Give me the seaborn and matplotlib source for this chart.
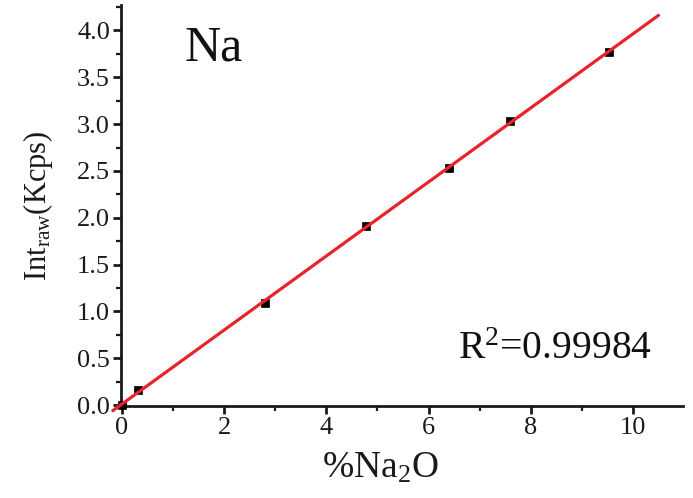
import numpy as np
import pandas as pd
import matplotlib
matplotlib.use("Agg")
import matplotlib.pyplot as plt
import seaborn as sns
from matplotlib.ticker import MultipleLocator

# Data
na2o_pct = [0.0, 0.31, 2.80, 4.77, 6.40, 7.59, 9.53]
intensity = [0.0, 0.16, 1.088, 1.91, 2.53, 3.03, 3.77]
fit_x_range = [-0.18, 10.50]
r2_label = "R$^2$=0.99984"
element = "Na"
xticks = [0, 2, 4, 6, 8, 10]
yticks = [0.0, 0.5, 1.0, 1.5, 2.0, 2.5, 3.0, 3.5, 4.0]

sns.set_theme(style="ticks")
plt.rcParams["font.family"] = ["Liberation Serif", "DejaVu Serif"]
plt.rcParams["mathtext.fontset"] = "custom"
plt.rcParams["mathtext.rm"] = "Liberation Serif"
plt.rcParams["mathtext.it"] = "Liberation Serif"

df = pd.DataFrame({"x": na2o_pct, "y": intensity})
slope, intercept = np.polyfit(na2o_pct, intensity, 1)
fx = np.array(fit_x_range)
fit_df = pd.DataFrame({"x": fx, "y": slope * fx + intercept})

fig = plt.figure(figsize=(6.93, 4.98), dpi=100)
ax = fig.add_axes([0.1746, 0.1847, 0.811, 0.805])

sns.scatterplot(data=df, x="x", y="y", marker="s", s=36, color="black",
                edgecolor="black", linewidth=0.5, ax=ax, zorder=3, clip_on=False)
sns.lineplot(data=fit_df, x="x", y="y", color="#e8242a", linewidth=2.3, ax=ax,
             zorder=4, clip_on=False)

ax.set_xlim(-0.02, 10.98)
ax.set_ylim(-0.01, 4.27)
ax.set_xticks(xticks)
ax.set_yticks(yticks)
ax.set_yticklabels([f"{v:.1f}" for v in yticks])
ax.xaxis.set_minor_locator(MultipleLocator(1))
ax.yaxis.set_minor_locator(MultipleLocator(0.25))

for s in ["top", "right"]:
    ax.spines[s].set_visible(False)
for s in ["left", "bottom"]:
    ax.spines[s].set_linewidth(2.0)
    ax.spines[s].set_color("#1a1a1a")

ax.tick_params(axis="both", which="major", direction="out", length=6, width=2,
               labelsize=19, colors="#1a1a1a", pad=2)
ax.tick_params(axis="both", which="minor", direction="out", length=3.5, width=1.6,
               colors="#1a1a1a")

ax.set_xlabel("%Na$_2$O", fontsize=27, color="#1a1a1a")
ax.set_ylabel("Int$_{\\mathrm{raw}}$(Kcps)", fontsize=22, color="#1a1a1a")
ax.xaxis.set_label_coords(0.461, -0.112)
ax.yaxis.set_label_coords(-0.118, 0.5)

ax.text(0.164, 0.893, element, transform=ax.transAxes, fontsize=36,
        color="#111111", ha="center", va="center")
ax.text(0.772, 0.14, r2_label, transform=ax.transAxes, fontsize=28.5,
        color="#111111", ha="center", va="center")

fig.savefig("out.png", dpi=100)
